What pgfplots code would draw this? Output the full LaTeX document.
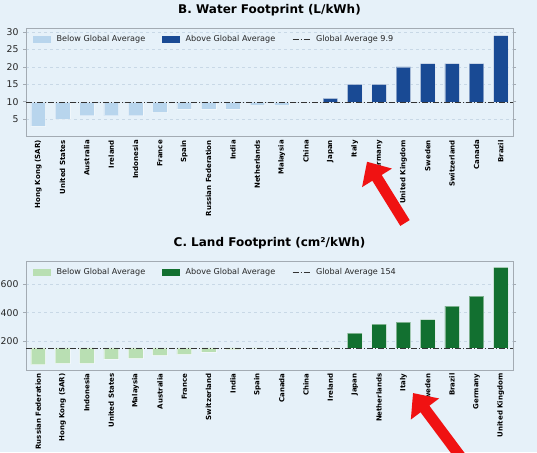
\documentclass[border=0pt]{standalone}
\usepackage{pgfplots}
\pgfplotsset{compat=1.18}
\usepackage{pgfplotstable}
\usepackage{fontspec}
\setmainfont{DejaVu Sans}
\usetikzlibrary{arrows.meta}
\definecolor{bg}{RGB}{230,241,249}
\definecolor{lightblue}{RGB}{184,213,237}
\definecolor{darkblue}{RGB}{25,74,148}
\definecolor{lightgreen}{RGB}{185,223,179}
\definecolor{darkgreen}{RGB}{18,112,48}
\definecolor{framegray}{RGB}{163,171,179}
\definecolor{gridc}{RGB}{200,216,230}
\definecolor{arrowred}{RGB}{240,18,18}

\pgfplotstableread{
idx name v
0 {Hong Kong (SAR)} 3
1 {United States} 5
2 Australia 6
3 Ireland 6
4 Indonesia 6
5 France 7
6 Spain 8
7 {Russian Federation} 8
8 India 8
9 Netherlands 9
10 Malaysia 9
11 China 9.8
12 Japan 11
13 Italy 15
14 Germany 15
15 {United Kingdom} 20
16 Sweden 21
17 Switzerland 21
18 Canada 21
19 Brazil 29
}\water

\pgfplotstableread{
idx name v
0 {Russian Federation} 38
1 {Hong Kong (SAR)} 47
2 Indonesia 46
3 {United States} 77
4 Malaysia 82
5 Australia 102
6 France 109
7 Switzerland 126
8 India 143
9 Spain 150
10 Canada 152
11 China 153
12 Ireland 153
13 Japan 258
14 Netherlands 321
15 Italy 335
16 Sweden 351
17 Brazil 447
18 Germany 516
19 {United Kingdom} 716
}\land

\tikzset{avgline/.style={black!80, line width=0.9pt, dash pattern=on 6pt off 2pt on 1pt off 2pt}}
\pgfplotsset{
  panel/.style={
    width=487pt, height=108.4pt, scale only axis,
    xmin=-0.5, xmax=19.5,
    xtick={0,...,19},
    axis line style={framegray, line width=1pt},
    tick align=outside,
    major tick length=3pt,
    xtick style={draw=none},
    ytick style={framegray, line width=0.8pt},
    ymajorgrids,
    grid style={dashed, gridc, line width=0.5pt},
    /pgf/number format/assume math mode=true,
    yticklabel style={font=\fontsize{9.3}{10}\selectfont, text=black!85, xshift=-1pt},
    xticklabel style={rotate=90, anchor=east, font=\bfseries\fontsize{7}{8}\selectfont, xshift=3pt},
    title style={font=\bfseries\fontsize{12}{14}\selectfont, at={(0.5,1)}, anchor=south, yshift=3pt},
    legend style={draw=none, fill=none, at={(0,1)}, anchor=north west, xshift=4pt, yshift=-3pt,
      legend columns=3, font=\fontsize{8.1}{9}\selectfont, text=black!85,
      /tikz/every odd column/.append style={column sep=4pt},
      /tikz/every even column/.append style={column sep=15pt}},
  },
  avglegend/.style={legend image code/.code={\draw[avgline] (0pt,0pt) -- (17pt,0pt);}},
}

\begin{document}
\begin{tikzpicture}
\fill[bg] (0,0) rectangle (537pt,-452pt);
\useasboundingbox (0,0) rectangle (537pt,-452pt);

\begin{axis}[panel, at={(26pt,-136.7pt)}, anchor=south west,
  ymin=0, ymax=31.1, ytick={5,10,15,20,25,30},
  xticklabels from table={\water}{name},
  title={B. Water Footprint (L/kWh)}]
\addlegendimage{legend image code/.code={\fill[lightblue] (0pt,-3pt) rectangle (17pt,3pt);}}
\addlegendentry{Below Global Average}
\addlegendimage{legend image code/.code={\fill[darkblue] (0pt,-3pt) rectangle (17pt,3pt);}}
\addlegendentry{Above Global Average}
\pgfplotsinvokeforeach{0,...,19}{
  \pgfplotstablegetelem{#1}{v}\of\water
  \let\barval\pgfplotsretval
  \pgfmathsetmacro\xl{#1-0.3}
  \pgfmathsetmacro\xr{#1+0.3}
  \ifdim\barval pt<9.9pt \def\barcol{lightblue}\else\def\barcol{darkblue}\fi
  \edef\tmp{\noexpand\addplot[forget plot, fill=\barcol, draw=white, draw opacity=0.45, line width=0.6pt] coordinates {(\xl,9.9) (\xr,9.9) (\xr,\barval) (\xl,\barval) (\xl,9.9)};}
  \tmp
}
\addplot[avgline, avglegend] coordinates {(-0.5,9.9) (19.5,9.9)};
\addlegendentry{Global Average 9.9}
\end{axis}

\begin{axis}[panel, at={(26pt,-370pt)}, anchor=south west,
  ymin=0, ymax=757, ytick={200,400,600},
  xticklabels from table={\land}{name},
  title={C. Land Footprint (cm²/kWh)}]
\addlegendimage{legend image code/.code={\fill[lightgreen] (0pt,-3pt) rectangle (17pt,3pt);}}
\addlegendentry{Below Global Average}
\addlegendimage{legend image code/.code={\fill[darkgreen] (0pt,-3pt) rectangle (17pt,3pt);}}
\addlegendentry{Above Global Average}
\pgfplotsinvokeforeach{0,...,19}{
  \pgfplotstablegetelem{#1}{v}\of\land
  \let\barval\pgfplotsretval
  \pgfmathsetmacro\xl{#1-0.3}
  \pgfmathsetmacro\xr{#1+0.3}
  \ifdim\barval pt<154pt \def\barcol{lightgreen}\else\def\barcol{darkgreen}\fi
  \edef\tmp{\noexpand\addplot[forget plot, fill=\barcol, draw=white, draw opacity=0.45, line width=0.6pt] coordinates {(\xl,154) (\xr,154) (\xr,\barval) (\xl,\barval) (\xl,154)};}
  \tmp
}
\addplot[avgline, avglegend] coordinates {(-0.5,154) (19.5,154)};
\addlegendentry{Global Average 154}
\end{axis}

\begin{scope}
\clip (0,0) rectangle (537pt,-452pt);
\draw[arrowred, line width=11pt, -{Triangle[width=34pt,length=19pt]}] (405pt,-223pt) -- (367pt,-161.7pt);
\draw[arrowred, line width=11pt, -{Triangle[width=34pt,length=20pt]}] (463pt,-460pt) -- (413pt,-393pt);
\end{scope}
\end{tikzpicture}
\end{document}
